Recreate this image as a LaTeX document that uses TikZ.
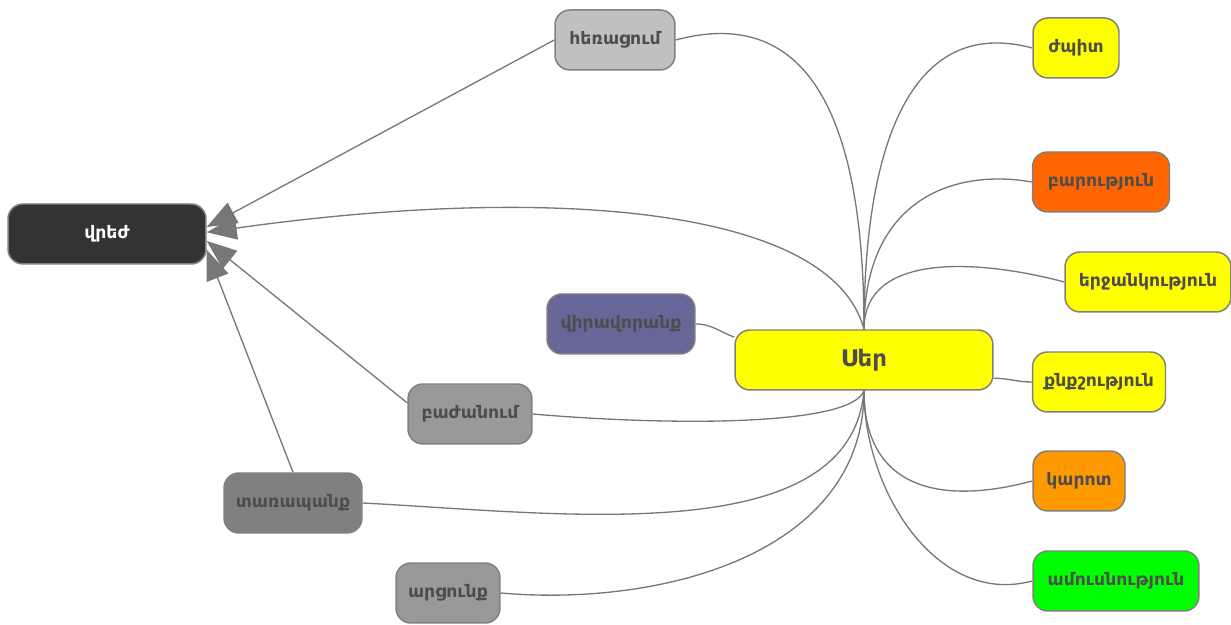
\documentclass[tikz,border=0pt]{standalone}
\usepackage{fontspec}
\setmainfont{DejaVu Sans}
\usepackage{tikz}
\usepackage{xcolor}
\usetikzlibrary{arrows.meta}
\definecolor{ink}{HTML}{4D4D4D}
\definecolor{linegray}{HTML}{777777}
\definecolor{border}{HTML}{808080}
\definecolor{night}{HTML}{333333}
\definecolor{silver}{HTML}{C0C0C0}
\definecolor{slate}{HTML}{666699}
\definecolor{lemon}{HTML}{FFFF00}
\definecolor{tangerine}{HTML}{FF6600}
\definecolor{amber}{HTML}{FF9900}
\definecolor{lime}{HTML}{00FF00}
\definecolor{midgray}{HTML}{999999}
\definecolor{deepgray}{HTML}{808080}
\tikzset{
  every node/.style={font=\bfseries\fontsize{9.8}{11}\selectfont},
  box/.style={draw=border, line width=0.85pt, rounded corners=8.5pt, minimum height=1.2cm, inner sep=0pt, text=ink, align=center},
  nightbox/.style={box, fill=night, text=white},
  silverbox/.style={box, fill=silver},
  slatebox/.style={box, fill=slate},
  lemonbox/.style={box, fill=lemon},
  tangerinebox/.style={box, fill=tangerine},
  amberbox/.style={box, fill=amber},
  limebox/.style={box, fill=lime},
  graybox/.style={box, fill=midgray},
  deepbox/.style={box, fill=deepgray},
  link/.style={draw=linegray, line width=0.75pt},
  arrow/.style={link, -{Triangle[length=6mm,width=4.6mm]}},
}
\begin{document}
\begin{tikzpicture}[x=0.02cm, y=0.02cm]
\useasboundingbox (0,0) rectangle (1231,625);
% centre
\node[lemonbox, minimum width=5.16cm, font=\bfseries\fontsize{13}{15}\selectfont] (ser) at (864,265) {Սեր};
% left side
\node[nightbox, minimum width=3.96cm] (vrezh) at (107,391) {վրեժ};
\node[silverbox, minimum width=2.4cm] (heracum) at (615,585) {հեռացում};
\node[slatebox, minimum width=2.96cm] (viravor) at (621,301) {վիրավորանք};
\node[graybox, minimum width=2.48cm] (bazhan) at (470,211) {բաժանում};
\node[deepbox, minimum width=2.76cm] (tarap) at (293,122) {տառապանք};
\node[graybox, minimum width=2.08cm] (arcunk) at (448,32) {արցունք};
% right side
\node[lemonbox, minimum width=1.72cm] (zhpit) at (1076,577) {ժպիտ};
\node[tangerinebox, minimum width=2.74cm] (barut) at (1101,443) {բարություն};
\node[lemonbox, minimum width=3.32cm] (erjank) at (1148,343) {երջանկություն};
\node[lemonbox, minimum width=2.66cm] (qnqsh) at (1099,243) {քնքշություն};
\node[amberbox, minimum width=1.84cm] (karot) at (1079,144) {կարոտ};
\node[limebox, minimum width=3.32cm] (amusn) at (1116,44) {ամուսնություն};

% links out of the centre
\draw[link] (ser.north) to[out=90, in=15, looseness=1.2] (heracum.east);
\draw[link] (ser.north) to[out=90, in=165, out looseness=1.4] (zhpit.west);
\draw[link] (ser.north) to[out=90, in=170, out looseness=1.5, in looseness=0.9] (barut.west);
\draw[link] (ser.north) to[out=90, in=165] (erjank.west);
\draw[link] (viravor.east) to[out=0, in=160] (ser.170);
\draw[link] (ser.-8) to[out=0, in=180] (qnqsh.west);
\draw[link] (ser.south) to[out=-110, in=-5, out looseness=0.3] (bazhan.east);
\draw[link] (ser.south) to[out=-95, in=-3, out looseness=0.8] (tarap.east);
\draw[link] (ser.south) to[out=-90, in=-5] (arcunk.east);
\draw[link] (ser.south) to[out=-90, in=195, looseness=1.3] (karot.west);
\draw[link] (ser.south) to[out=-90, in=195] (amusn.west);

% arrows into vrezh
\draw[arrow] (ser.north) to[out=105, in=8, out looseness=0.5, in looseness=1.3] (vrezh.1);
\draw[arrow] (heracum.west) -- (vrezh.4);
\draw[arrow] (bazhan.170) -- (vrezh.-4);
\draw[arrow] (tarap.north) -- (vrezh.-9);
\end{tikzpicture}
\end{document}
